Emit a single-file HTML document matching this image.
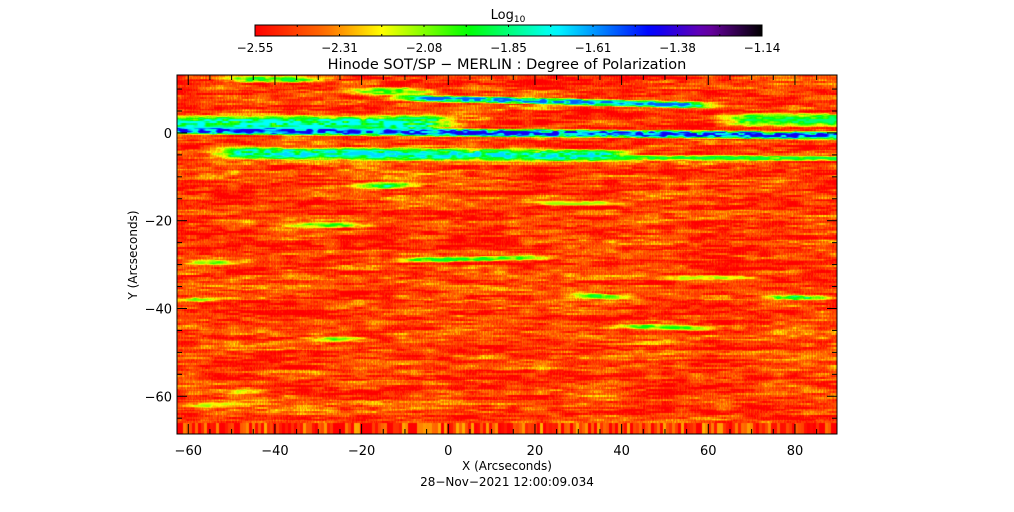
<!DOCTYPE html>
<html><head><meta charset="utf-8"><style>
body{margin:0;background:#fff;}
#wrap{position:relative;width:1014px;height:512px;overflow:hidden;background:#fff;font-family:"DejaVu Sans","Liberation Sans",sans-serif;}
</style></head><body>
<div id="wrap">
<canvas id="hm" width="660" height="359" style="position:absolute;left:177px;top:75px;"></canvas>
<svg id="ov" width="1014" height="512" style="position:absolute;left:0;top:0"></svg>
</div>
<script>
// ---- data ----
const xDomain = [-62.6, 89.7];
const yDomain = [-68.6, 13.2];
const vDomain = [-2.55, -1.14];
const cbTickLabels = ["-2.55","-2.31","-2.08","-1.85","-1.61","-1.38","-1.14"];
const xTicks = [-60,-40,-20,0,20,40,60,80];
const yTicks = [-60,-40,-20,0];
const backgroundLevel = -2.45;
// streak features
const streakX0 = [-62.6,-62.6, 65,-10,-22,-50,-52, 30,-20,-35,-10,-60, 30, 75,-62, 40,-30,-50,-60, 20, 50];
const streakX1 = [ 89.7,   0, 89.7, 60, -5,-30, 40, 89.7,-10,-20, 20,-50, 40, 85,-55, 60,-20,-45,-50, 40, 70];
const streakY0 = [ 0.6, 2.0, 3.0, 8.0, 9.5, 12.2,-4.6,-5.6,-12,-21,-29,-29.5,-37,-37.5,-38,-44,-47,-59,-62,-16,-33];
const streakY1 = [-0.6, 2.2, 3.0, 6.3, 9.5, 12.2,-5.2,-5.8,-12,-21,-28.5,-29.5,-37.5,-37.5,-38,-44.5,-47,-59,-62,-16,-33];
const streakV  = [-1.42,-1.72,-1.85,-1.55,-1.95,-1.9,-1.68,-1.9,-1.75,-1.95,-1.92,-1.98,-1.9,-1.72,-1.95,-1.95,-1.98,-2.0,-2.1,-2.1,-2.1];
const streakH  = [ 0.6, 1.2, 1.0, 0.5, 0.6, 0.5, 0.9, 0.4, 0.5, 0.4, 0.4, 0.4, 0.4, 0.4, 0.4, 0.4, 0.4, 0.4, 0.5, 0.4, 0.4];

// ---- scales ----
const PL=177, PT=75, PW=660, PH=359;
const xs = v => PL + (v - xDomain[0])/(xDomain[1]-xDomain[0])*PW;
const ys = v => PT + (yDomain[1]-v)/(yDomain[1]-yDomain[0])*PH;
const stops=[[0,[255,0,0]],[0.14,[255,110,0]],[0.25,[255,255,0]],[0.42,[0,255,0]],[0.59,[0,255,255]],[0.78,[0,0,255]],[0.89,[110,0,170]],[1,[0,0,0]]];
function cmap(v){
  let t=(v-vDomain[0])/(vDomain[1]-vDomain[0]); t=Math.max(0,Math.min(1,t));
  for(let i=1;i<stops.length;i++){ if(t<=stops[i][0]){const a=stops[i-1],b=stops[i],f=(t-a[0])/(b[0]-a[0]);
    return [0,1,2].map(k=>Math.round(a[1][k]+(b[1][k]-a[1][k])*f));}}
  return stops[stops.length-1][1];
}
// deterministic texture (decorative only)
function h(a,b){let n=a*374761393+b*668265263;n=(n^(n>>>13))*1274126177;n=n^(n>>>16);return ((n>>>0)%10000)/10000;}
function rowNoise(x,r,s){const c=Math.floor(x/s);const f=(x/s)-c;const g=f*f*(3-2*f);return h(c,r)*(1-g)+h(c+1,r)*g;}

// ---- heatmap ----
const cv=document.getElementById('hm'), ctx=cv.getContext('2d');
const img=ctx.createImageData(PW,PH);
for(let py=0;py<PH;py++){
  const r=Math.floor(py/2), r2=Math.floor(py/5);
  const yv=yDomain[1]-(py+0.5)/PH*(yDomain[1]-yDomain[0]);
  for(let px=0;px<PW;px++){
    const xv=xDomain[0]+(px+0.5)/PW*(xDomain[1]-xDomain[0]);
    let v=backgroundLevel+(rowNoise(px,r,14)-0.5)*0.22+(rowNoise(px,r2+500,60)-0.5)*0.2+(h(px,r+999)-0.5)*0.1+(px%3==0?0.04:0);
    if(yv<-66) v=backgroundLevel+(h(Math.floor(px/3),7)-0.5)*0.35;
    for(let i=0;i<streakV.length;i++){
      const taper=5;
      if(xv<streakX0[i]-taper||xv>streakX1[i]+taper) continue;
      const f=Math.max(0,Math.min(1,(xv-streakX0[i])/(streakX1[i]-streakX0[i]+1e-9)));
      const yc=streakY0[i]+(streakY1[i]-streakY0[i])*f;
      const d=Math.abs(yv-yc)/streakH[i];
      let endW=1;
      if(streakX0[i]>xDomain[0]+0.1) endW=Math.min(endW,Math.max(0,(xv-streakX0[i]+taper)/(2*taper)));
      if(streakX1[i]<xDomain[1]-0.1) endW=Math.min(endW,Math.max(0,(streakX1[i]+taper-xv)/(2*taper)));
      if(d<1.8){const w=Math.min(1,Math.max(0,1-d*d/3.2)*(0.6+0.7*rowNoise(px,i*31+r,6))*endW);
        const tv=streakV[i]*w+v*(1-w); if(tv>v) v=tv;}
    }
    const c=cmap(v), o=(py*PW+px)*4;
    img.data[o]=c[0];img.data[o+1]=c[1];img.data[o+2]=c[2];img.data[o+3]=255;
  }
}
ctx.putImageData(img,0,0);

// ---- overlay ----
const svg=document.getElementById('ov'), NS='http://www.w3.org/2000/svg';
function el(t,a,txt){const e=document.createElementNS(NS,t);for(const k in a)e.setAttribute(k,a[k]);if(txt!==undefined)e.textContent=txt;svg.appendChild(e);return e;}
let e;
e=el('rect',{x:PL,y:PT,width:PW,height:PH,fill:'none',stroke:'#000','stroke-width':1});


for(let v=-60;v<=85;v+=5){const X=xs(v),L=(v%20==0)?10:5;
  el('line',{x1:X,x2:X,y1:PT+PH,y2:PT+PH-L,stroke:'#000'});
  el('line',{x1:X,x2:X,y1:PT,y2:PT+L,stroke:'#000'});}
for(let v=-65;v<=10;v+=5){const Y=ys(v),L=(v%20==0)?10:5;
  el('line',{x1:PL,x2:PL+L,y1:Y,y2:Y,stroke:'#000'});
  el('line',{x1:PL+PW,x2:PL+PW-L,y1:Y,y2:Y,stroke:'#000'});}
xTicks.forEach(v=>{e=el('text',{x:xs(v),y:455,'text-anchor':'middle','font-size':13},String(v).replace('-','\u2212'));
  
  });
yTicks.forEach(v=>{e=el('text',{x:172,y:ys(v)+5,'text-anchor':'end','font-size':13},String(v).replace('-','\u2212'));
  
  });
e=el('text',{x:507,y:470,'text-anchor':'middle','font-size':12},'X (Arcseconds)');


e=el('text',{x:507,y:486,'text-anchor':'middle','font-size':12},'28\u2212Nov\u22122021 12:00:09.034');


e=el('text',{x:0,y:0,'text-anchor':'middle','font-size':12,transform:'translate(137,255) rotate(-90)'},'Y (Arcseconds)');


e=el('text',{x:507,y:69,'text-anchor':'middle','font-size':14.5},'Hinode SOT/SP \u2212 MERLIN : Degree of Polarization');


// colorbar
const CBL=255,CBR=762,CBT=25,CBB=36;
const defs=el('defs',{});const g=document.createElementNS(NS,'linearGradient');g.setAttribute('id','cbg');defs.appendChild(g);
for(let i=0;i<=40;i++){const s=document.createElementNS(NS,'stop');const c=cmap(vDomain[0]+i/40*(vDomain[1]-vDomain[0]));s.setAttribute('offset',i/40);s.setAttribute('stop-color','rgb('+c+')');g.appendChild(s);}
e=el('rect',{x:CBL,y:CBT,width:CBR-CBL,height:CBB-CBT,fill:'url(#cbg)',stroke:'#000','stroke-width':1});


for(let i=1;i<12;i++){const X=CBL+i*(CBR-CBL)/12;el('line',{x1:X,x2:X,y1:CBB,y2:CBB-2,stroke:'#000'});el('line',{x1:X,x2:X,y1:CBT,y2:CBT+2,stroke:'#000'});}
cbTickLabels.forEach((t,i)=>{e=el('text',{x:CBL+i*(CBR-CBL)/6,y:52,'text-anchor':'middle','font-size':12},t.replace('-','\u2212'));
  
  });
e=el('text',{x:508,y:19,'text-anchor':'middle','font-size':13},'');


const t1=document.createElementNS(NS,'tspan');t1.textContent='Log';e.appendChild(t1);
const t2=document.createElementNS(NS,'tspan');t2.setAttribute('font-size','9');t2.setAttribute('dy','3');t2.textContent='10';e.appendChild(t2);
</script>
</body></html>
